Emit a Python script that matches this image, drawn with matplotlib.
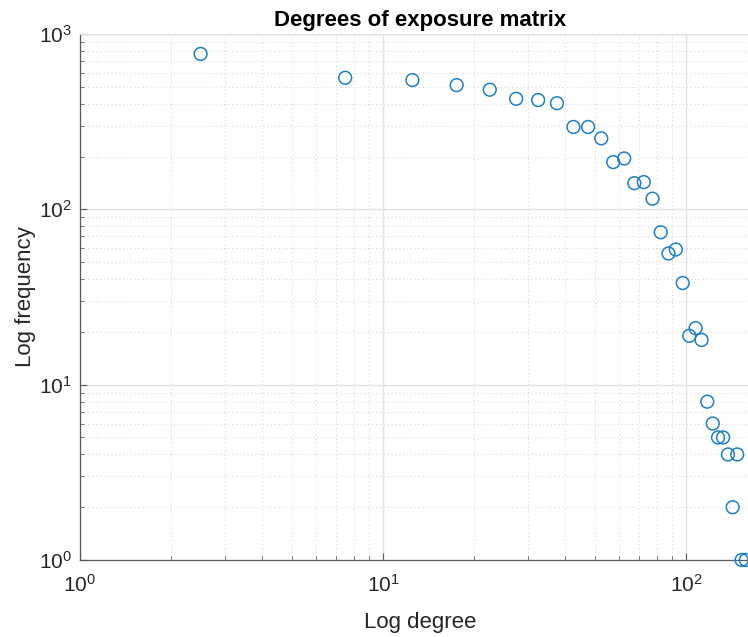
import matplotlib
matplotlib.use("Agg")
import matplotlib.pyplot as plt
from matplotlib.ticker import LogLocator, NullFormatter

plt.rcParams['font.family'] = ['Liberation Sans', 'DejaVu Sans']
plt.rcParams['mathtext.fontset'] = 'custom'
plt.rcParams['mathtext.rm'] = 'Liberation Sans'
plt.rcParams['mathtext.it'] = 'Liberation Sans'

# degree bins (centres) and how many nodes fall in each
degree = [2.5, 7.5, 12.5, 17.5, 22.5, 27.5, 32.5, 37.5, 42.5, 47.5, 52.5,
          57.5, 62.5, 67.5, 72.5, 77.5, 82.5, 87.5, 92.5, 97.5, 102.5,
          107.5, 112.5, 117.5, 122.5, 127.5, 132.5, 137.5, 142.5, 147.5,
          152.5, 157.5]
frequency = [770, 563, 546, 511, 481, 427, 420, 403, 295, 295, 254,
             186, 195, 141, 143, 115, 74, 56, 59, 38, 19,
             21, 18, 8, 6, 5, 5, 4, 2, 4,
             1, 1]

axis_col = '#262626'
fig = plt.figure(figsize=(7.48, 6.37), dpi=100)
ax = fig.add_axes([80 / 748, 77 / 637, 680 / 748, 526 / 637])

ax.scatter(degree, frequency, s=9.2 ** 2, facecolors='none',
           edgecolors='#1f7fc4', linewidths=1.1, clip_on=False, zorder=3)

ax.set_xscale('log')
ax.set_yscale('log')
ax.set_xlim(1, 10 ** 2.244)
ax.set_ylim(1, 1000)

ax.xaxis.set_major_locator(LogLocator(base=10, numticks=10))
ax.yaxis.set_major_locator(LogLocator(base=10, numticks=10))
ax.xaxis.set_minor_locator(LogLocator(base=10, subs=range(2, 10), numticks=20))
ax.yaxis.set_minor_locator(LogLocator(base=10, subs=range(2, 10), numticks=20))
ax.xaxis.set_minor_formatter(NullFormatter())
ax.yaxis.set_minor_formatter(NullFormatter())

ax.grid(True, which='major', color='#e3e3e3', linewidth=1.0, linestyle='-')
ax.grid(True, which='minor', color='#cfcfcf', linewidth=0.7, linestyle=(0, (1, 3)))
ax.set_axisbelow(True)

for side in ['left', 'bottom']:
    ax.spines[side].set_color('#5a5a5a')
    ax.spines[side].set_linewidth(0.9)
ax.spines['top'].set_color('#e0e0e0')
ax.spines['right'].set_visible(False)

ax.tick_params(which='both', direction='in', colors='#5a5a5a', labelcolor=axis_col,
               labelsize=15, top=False, right=False)
ax.tick_params(which='major', length=5, width=0.8, pad=6)
ax.tick_params(which='minor', length=3, width=0.6)
ax.tick_params(axis='x', which='major', pad=10)

ax.set_title('Degrees of exposure matrix', fontsize=16, fontweight='bold', pad=6)
ax.set_xlabel('Log degree', fontsize=16, color=axis_col, labelpad=12)
ax.set_ylabel('Log frequency', fontsize=16, color=axis_col, labelpad=2)

fig.savefig('out.png', dpi=100, facecolor='white')
